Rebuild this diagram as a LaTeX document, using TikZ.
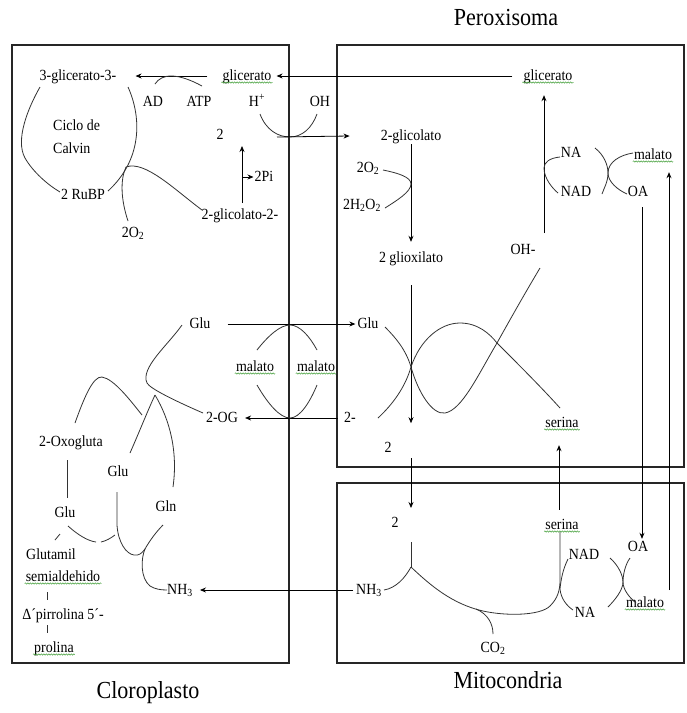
\documentclass[tikz,border=0pt]{standalone}
\usepackage{fontspec}
\setmainfont{Liberation Serif}[FakeStretch=0.9]
\usetikzlibrary{arrows.meta,decorations.pathmorphing}
\definecolor{wavg}{RGB}{70,160,60}
\newcommand\wavyul[1]{\draw[wav] ([yshift=-2.5pt]#1.base west) -- ([yshift=-2.5pt]#1.base east);}
\begin{document}
\begin{tikzpicture}[x=1pt,y=-1pt,
  font=\fontsize{15.5}{17}\selectfont,
  lbl/.style={inner sep=1pt,text height=11pt,text depth=3pt},
  ttl/.style={inner sep=1pt,font=\fontsize{24.5}{26}\selectfont},
  arr/.style={line width=0.8pt,-{Stealth[length=6pt,width=5pt]}},
  cv/.style={line width=0.8pt,black!80},
  box/.style={line width=1.1pt,black!85},
  wav/.style={draw=wavg,line width=0.5pt,decorate,decoration={snake,amplitude=0.7pt,segment length=2.5pt}}]
\useasboundingbox (0,0) rectangle (687,713);
\fill[white] (0,0) rectangle (687,713);

% compartments
\draw[box] (12,45) rectangle (289,663);
\draw[box] (337,45) rectangle (684,467);
\draw[box] (337,483) rectangle (684,663);
\node[ttl] (tP) at (506,18) {Peroxisoma};
\node[ttl] (tC) at (148,693) {Cloroplasto};
\node[ttl] (tM) at (508,680) {Mitocondria};

% ---- chloroplast top
\node[lbl] (g3) at (78,76) {3-glicerato-3-};
\node[lbl] (gC) at (247,76) {glicerato};
\node[lbl] (ad) at (153,102) {AD};
\node[lbl] (atp) at (199,102) {ATP};
\node[lbl] (hp) at (257,102) {H\textsuperscript{+}};
\node[lbl] (oh) at (320,102) {OH};
\node[inner sep=1pt,align=left,anchor=west,font=\fontsize{15.5}{23}\selectfont] (cc) at (52,137) {Ciclo de\\Calvin};
\node[lbl] (two1) at (220,135) {2};
\node[lbl] (rubp) at (83,195) {2 RuBP};
\node[lbl] (pi) at (264,177) {2Pi};
\node[lbl] (glc2) at (240,215) {2-glicolato-2-};
\node[lbl] (o2a) at (133,233) {2O\textsubscript{2}};
\wavyul{gC}

\draw[arr] ([xshift=-14pt]gC.west) -- ([xshift=18pt]g3.east);
\draw[cv] (155,84) .. controls (162,73) and (178,73) .. (202,86);
\coordinate (vb) at (290,137);
\draw[cv] (260,114) .. controls (266,130) and (278,137) .. (vb) .. controls (302,137) and (312,128) .. (317,114);
% Calvin cycle
\draw[cv] (40,87) .. controls (28,108) and (15,140) .. (25,158) .. controls (33,172) and (48,185) .. (60,192);
\draw[cv] (128,87) .. controls (142,118) and (142,160) .. (108,191);
\coordinate (jn) at (126,167);
\draw[cv] (128,221) .. controls (121,200) and (120,180) .. (jn);
\draw[cv] (jn) .. controls (145,160) and (175,190) .. (202,210);
\coordinate (up1) at (242,203);
\coordinate (pj) at (242,177);
\draw[arr] (up1) -- ++(0,-57);
\draw[arr] (pj) -- (pi.west);

% ---- peroxisome top
\node[lbl] (gP) at (548,76) {glicerato};
\node[lbl] (gl) at (411,136) {2-glicolato};
\node[lbl] (o2b) at (368,168) {2O\textsubscript{2}};
\node[lbl] (h2o2) at (362,205) {2H\textsubscript{2}O\textsubscript{2}};
\node[lbl] (glx) at (411,258) {2 glioxilato};
\node[lbl] (ohm) at (523,250) {OH-};
\node[lbl] (na1) at (571,153) {NA};
\node[lbl] (nad1) at (576,192) {NAD};
\node[lbl] (mal1) at (653,155) {malato};
\node[lbl] (oa1) at (638,192) {OA};
\wavyul{gP}
\wavyul{mal1}

\draw[arr] ([xshift=-10pt]gP.west) -- ([xshift=4pt]gC.east);
\draw[arr] ([xshift=-13pt]vb) -- ([xshift=-30pt]gl.west);
\draw[arr] (gl.south) -- ([yshift=8pt]glx.north);
\draw[cv] (383,170) .. controls (398,173) and (411,177) .. (411,184) .. controls (411,192) and (396,201) .. (385,208);
\coordinate (ohup) at (544,233);
\path ([yshift=-11pt]gP.south) coordinate (gPs);
\draw[arr] (ohup) -- (ohup |- gPs);
\draw[cv] (560,157) .. controls (550,158) and (544,162) .. (544,168) .. controls (544,178) and (552,188) .. (558,193);
\draw[cv] (595,148) .. controls (604,155) and (608,165) .. (608,173) .. controls (608,182) and (618,190) .. (627,194);
\draw[cv] (633,153) .. controls (620,155) and (608,162) .. (608,173) .. controls (608,182) and (604,188) .. (602,194);

% ---- middle
\node[lbl] (gluC) at (200,324) {Glu};
\node[lbl] (gluP) at (368,324) {Glu};
\node[lbl] (malA) at (255,367) {malato};
\node[lbl] (malB) at (316,367) {malato};
\node[lbl] (og) at (222,418) {2-OG};
\node[lbl] (tm) at (350,418) {2-};
\node[lbl] (two2) at (388,448) {2};
\node[lbl] (serP) at (562,423) {serina};
\wavyul{malA}
\wavyul{malB}
\wavyul{serP}

\draw[arr] ([xshift=16pt]gluC.east) -- ([xshift=-1pt]gluP.west);
\draw[arr] ([xshift=-5pt]tm.west) -- ([xshift=6pt]og.east);
\draw[cv] (257,350) .. controls (268,336) and (280,325) .. (290,325) .. controls (300,325) and (310,337) .. (317,350);
\draw[cv] (257,385) .. controls (268,404) and (280,418) .. (290,418) .. controls (300,418) and (310,402) .. (317,385);
\draw[arr] ([yshift=-19pt]glx.south) -- ++(0,138);
\coordinate (xa) at (411,367);
\coordinate (xb) at (497,343);
\draw[cv] (385,327) .. controls (396,338) and (406,350) .. (xa) .. controls (418,392) and (432,415) .. (445,413) .. controls (462,410) and (478,375) .. (xb) .. controls (512,316) and (528,288) .. (540,268);
\draw[cv] (378,418) .. controls (392,405) and (405,388) .. (xa) .. controls (420,340) and (440,323) .. (460,323) .. controls (478,323) and (490,334) .. (xb) .. controls (518,364) and (542,388) .. (560,408);

% ---- chloroplast lower
\node[lbl] (oxo) at (71,442) {2-Oxogluta};
\node[lbl] (gluM) at (118,472) {Glu};
\node[lbl] (gluL) at (65,513) {Glu};
\node[lbl] (gln) at (166,507) {Gln};
\node[lbl] (nhC) at (180,590) {NH\textsubscript{3}};
\node[lbl] (glut) at (51,555) {Glutamil};
\node[lbl] (semi) at (63,577) {semialdehido};
\node[lbl] (pirr) at (63,615) {Δ´pirrolina 5´-};
\node[lbl] (prol) at (54,648) {prolina};
\wavyul{semi}
\wavyul{prol}

\coordinate (jb) at (155,395);
\draw[cv] (182,325) .. controls (168,345) and (140,368) .. (147,383) .. controls (150,389) and (180,403) .. (203,413);
\draw[cv] (75,423) .. controls (84,398) and (93,376) .. (102,377) .. controls (114,379) and (130,400) .. (142,415);
\draw[cv] (jb) .. controls (148,410) and (138,435) .. (130,453);
\draw[cv] (jb) .. controls (170,420) and (178,452) .. (173,487);
\draw[cv] (67,460) -- (67,498);
\draw[cv] (68,526) .. controls (78,535) and (88,541) .. (96,542);
\draw[cv] (101,542) .. controls (106,541) and (111,538) .. (115,535);
\coordinate (jc) at (145,549);
\draw[cv] (117,492) -- (117,525) .. controls (118,542) and (126,554) .. (134,555) .. controls (139,556) and (142,553) .. (jc) .. controls (150,540) and (157,531) .. (163,525);
\draw[cv] (jc) .. controls (141,558) and (140,578) .. (150,586) .. controls (155,589) and (160,590) .. (167,590);
\draw[cv] (55,540) -- (60,534);
\draw[cv] (47,592) -- (47,600);
\draw[cv] (47,625) -- (47,633);

% ---- mitochondria
\node[lbl] (two3) at (395,523) {2};
\node[lbl] (nhM) at (369,590) {NH\textsubscript{3}};
\node[lbl] (co2) at (493,648) {CO\textsubscript{2}};
\node[lbl] (serM) at (562,525) {serina};
\node[lbl] (nad2) at (584,555) {NAD};
\node[lbl] (na2) at (585,613) {NA};
\node[lbl] (oa2) at (638,547) {OA};
\node[lbl] (mal2) at (645,603) {malato};
\wavyul{serM}
\wavyul{mal2}

\coordinate (d1) at (411,458);
\draw[arr] (d1) -- ++(0,50);
\coordinate (jm) at (411,567);
\draw[cv] (411,542) -- (jm);
\draw[cv] (jm) .. controls (405,578) and (396,588) .. (384,590);
\draw[cv] (jm) .. controls (430,585) and (452,604) .. (483,611) .. controls (505,616) and (540,616) .. (550,606) .. controls (558,598) and (560,590) .. (560,580) -- (560,532);
\draw[cv] (476,609) .. controls (488,614) and (493,624) .. (493,634);
\draw[cv] (568,559) .. controls (563,569) and (561,579) .. (560,589) .. controls (561,599) and (567,606) .. (573,610);
\draw[cv] (610,558) .. controls (618,565) and (623,575) .. (623,582) .. controls (623,590) and (630,598) .. (636,603);
\draw[cv] (630,558) .. controls (625,565) and (623,575) .. (623,582) .. controls (623,590) and (615,600) .. (608,607);

% cross-compartment arrows
\draw[arr] ([xshift=-3pt,yshift=7pt]serM.north) -- ([xshift=-3pt,yshift=-14pt]serP.south);
\draw[arr] ([xshift=-2pt]nhM.west) -- ([xshift=6pt]nhC.east);
\draw[arr] ([xshift=4pt,yshift=-7pt]oa1.south) -- ([xshift=4pt]oa2.north);
\coordinate (m2r) at (669,590);
\path ([yshift=-9pt]mal1.south) coordinate (m1s);
\draw[arr] (m2r) -- (m2r |- m1s);
\end{tikzpicture}
\end{document}
